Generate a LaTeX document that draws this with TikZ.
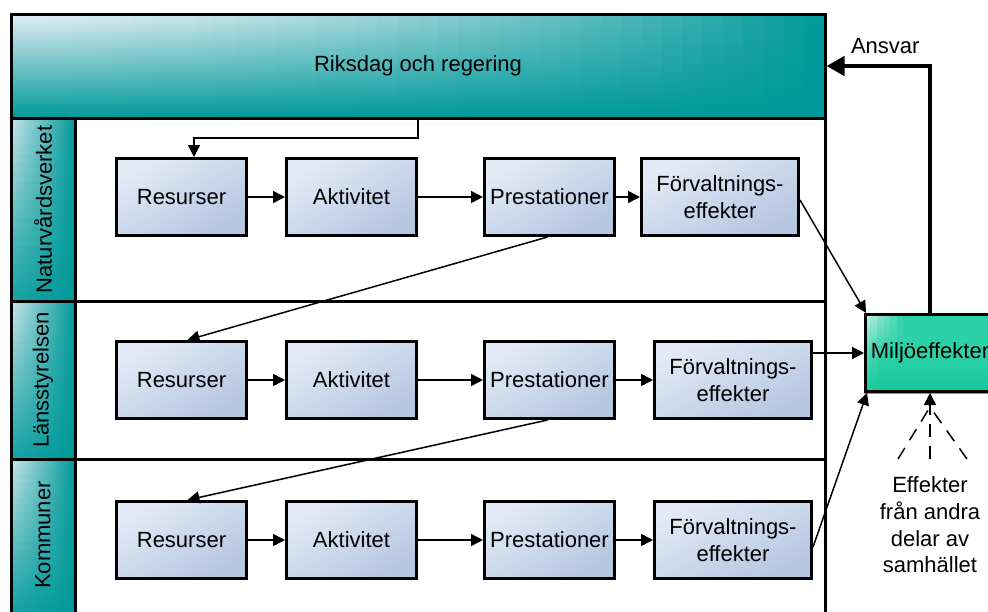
\documentclass[tikz,border=0pt]{standalone}
\usepackage{fontspec}
\setmainfont{Liberation Sans}
\usetikzlibrary{arrows.meta,calc}
\definecolor{boxL}{HTML}{E2EAF6}
\definecolor{boxD}{HTML}{B5C6E1}
\definecolor{tealL}{HTML}{E0EDF4}
\definecolor{tealD}{HTML}{009999}
\definecolor{greenL}{HTML}{E2F8F2}
\definecolor{greenM}{HTML}{2DD1A8}
\definecolor{greenD}{HTML}{06C294}
\begin{document}
\begin{tikzpicture}[x=1pt,y=-1pt,
  font=\fontsize{22}{26.7}\selectfont,
  stepbox/.style={draw, line width=3pt, minimum width=130pt, minimum height=77pt,
    top color=boxL, bottom color=boxD, shading angle=31, inner sep=0pt, align=center},
  widebox/.style={stepbox, minimum width=157pt, shading angle=27},
  hdrbox/.style={draw, line width=3pt, minimum width=814pt, minimum height=104pt, inner sep=0pt},
  miljobox/.style={draw, line width=3pt, minimum width=129pt, minimum height=77pt, inner sep=0pt},
  frame/.style={line width=3pt},
  arr/.style={line width=1.5pt, -{Triangle[length=12pt,width=12pt]}},
  ansvar/.style={line width=4.5pt, -{Triangle[length=18pt,width=19pt]}},
  dashline/.style={line width=1.5pt, dash pattern=on 13pt off 9pt},
  lanelabel/.style={rotate=90, inner sep=0pt}
]
\useasboundingbox (0,0) rectangle (988,611);

% header gradient (light top-left, teal bottom/right)
\foreach \i in {0,...,39}{
  \pgfmathsetmacro\xa{11+\i*20.35}
  \pgfmathsetmacro\xb{\xa+21.5}
  \pgfmathsetmacro\uu{(\i+0.5)/40}
  \pgfmathtruncatemacro\st{100*\uu^1.5}
  \pgfmathtruncatemacro\sm{min(100,50+50*\uu^1.5)}
  \shade[top color=tealD!\st!tealL, bottom color=tealD, middle color=tealD!\sm!tealL] (\xa,14) rectangle (\xb,118);
}

% lane label cell gradients
\foreach \ytop/\ybot in {118/301.5, 301.5/459.5, 459.5/611}{
  \foreach \j in {0,...,19}{
    \pgfmathsetmacro\yc{\ytop+(\ybot-\ytop)*\j/20}
    \pgfmathsetmacro\yd{\ytop+(\ybot-\ytop)*(\j+1)/20+0.8}
    \pgfmathtruncatemacro\sl{10+80*(\j+0.5)/20}
    \pgfmathtruncatemacro\sm{(\sl+100)/2}
    \shade[left color=tealD!\sl!tealL, right color=tealD, middle color=tealD!\sm!tealL] (11,\yc) rectangle (75,\yd);
  }
}

% Miljöeffekter gradient
\foreach \i in {0,...,19}{
  \pgfmathsetmacro\xa{864+\i*6.6}
  \pgfmathsetmacro\xb{\xa+7.4}
  \pgfmathsetmacro\uu{(\i+0.5)/20}
  \pgfmathtruncatemacro\st{min(100,10+300*\uu)}
  \pgfmathtruncatemacro\sm{min(100,75+200*\uu)}
  \shade[top color=greenM!\st!greenL, bottom color=greenM!40!greenD, middle color=greenM!\sm!greenL] (\xa,313) rectangle (\xb,393);
}

% header
\node[hdrbox] (hdr) at (418,66) {Riksdag och regering};

% frame lines
\draw[frame] (11,118) -- (11,640);
\draw[frame] (825,118) -- (825,640);
\draw[frame] (75,118) -- (75,640);
\draw[frame] (11,301.5) -- (825,301.5);
\draw[frame] (11,459.5) -- (825,459.5);

% lane labels
\node[lanelabel] (l1) at (43,209.5) {Naturvårdsverket};
\node[lanelabel] (l2) at (43,380) {Länsstyrelsen};
\node[lanelabel] (l3) at (43,535) {Kommuner};

% row 1
\node[stepbox] (r1) at (181.5,197) {Resurser};
\node[stepbox] (a1) at (351.5,197) {Aktivitet};
\node[stepbox] (p1) at (549.5,197) {Prestationer};
\node[widebox] (f1) at (720,197) {Förvaltnings-\\effekter};
% row 2
\node[stepbox] (r2) at (181.5,380) {Resurser};
\node[stepbox] (a2) at (351.5,380) {Aktivitet};
\node[stepbox] (p2) at (549.5,380) {Prestationer};
\node[widebox] (f2) at (733,380) {Förvaltnings-\\effekter};
% row 3
\node[stepbox] (r3) at (181.5,540) {Resurser};
\node[stepbox] (a3) at (351.5,540) {Aktivitet};
\node[stepbox] (p3) at (549.5,540) {Prestationer};
\node[widebox] (f3) at (733,540) {Förvaltnings-\\effekter};

% Miljöeffekter
\node[miljobox] (m) at (930,353) {Miljöeffekter};

% connectors
\draw[arr] (hdr.south) -- ++(0,18.5) -| ([xshift=12.5pt]r1.north);
\foreach \i in {1,2,3}{
  \draw[arr] (r\i.east) -- (a\i.west);
  \draw[arr] (a\i.east) -- (p\i.west);
  \draw[arr] (p\i.east) -- (f\i.west);
}
\draw[arr] ([xshift=-2pt]p1.south) -- ([xshift=6pt]r2.north);
\draw[arr] ([xshift=-2pt]p2.south) -- ([xshift=6pt]r3.north);
\draw[arr] ([yshift=-3pt]f1.east) -- ([xshift=2pt]m.north west);
\draw[arr] (f2.east |- m.west) -- (m.west);
\draw[arr] ([yshift=-7pt]f3.east) -- ([xshift=3pt]m.south west);

\draw[ansvar] (m.north) |- node[pos=0.75, above=8pt, inner sep=2pt, xshift=7pt] {Ansvar} (hdr.east);

% dashed influences
\coordinate (dv) at (930,459);
\coordinate (dl) at (898,459);
\coordinate (dr) at (967,459);
\coordinate (dm) at (930,407);
\draw[arr, dash pattern=on 13pt off 9pt] (dv) -- (m.south);
\draw[dashline] (dl) -- (dm);
\draw[dashline] (dr) -- (dm);

\node[align=center, inner sep=0pt] (eff) at (930,525) {Effekter\\från andra\\delar av\\samhället};
\end{tikzpicture}
\end{document}
